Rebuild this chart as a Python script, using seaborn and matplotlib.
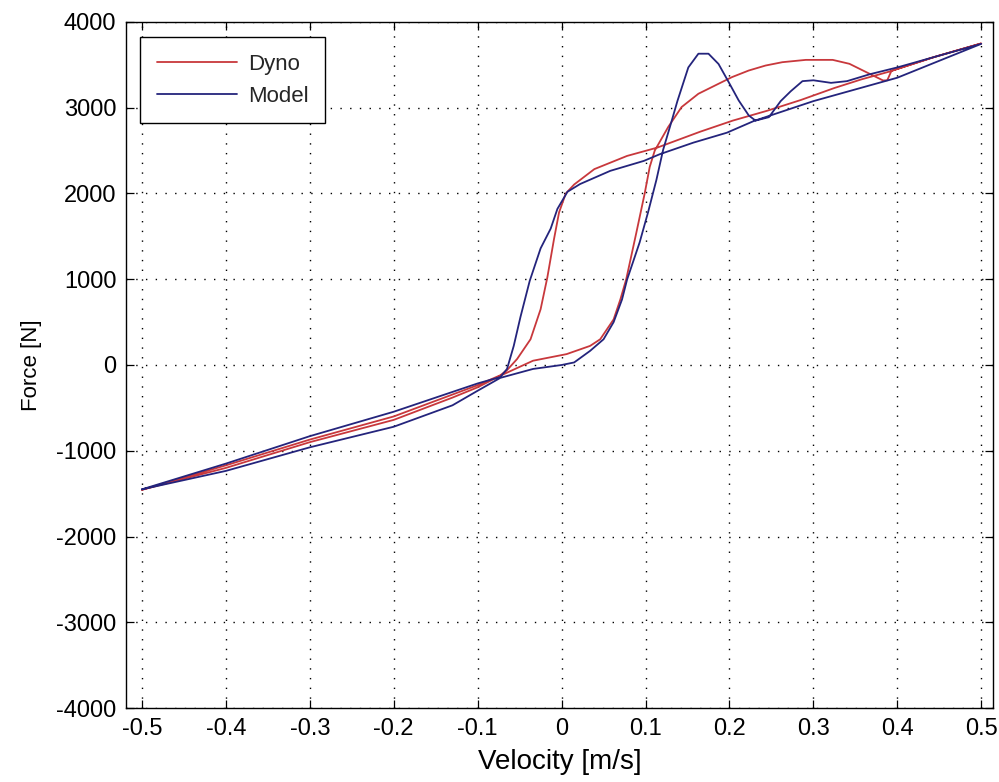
import matplotlib
matplotlib.use("Agg")
import matplotlib.pyplot as plt
import numpy as np
import pandas as pd
import seaborn as sns

# ---------------- data ----------------
# Dyno loop: accelerating branch then decelerating branch
dyno_v = [-0.5, -0.4, -0.3, -0.2, -0.13, -0.1, -0.073, -0.034, 0.006, 0.034,
          0.046, 0.062, 0.07, 0.077, 0.089, 0.099, 0.105, 0.111, 0.127, 0.143,
          0.163, 0.183, 0.203, 0.223, 0.243, 0.263, 0.291, 0.323, 0.343, 0.363,
          0.383, 0.388, 0.393, 0.446, 0.5,
          0.44, 0.39, 0.357, 0.325, 0.285, 0.245, 0.204, 0.165, 0.114, 0.078,
          0.039, 0.015, 0.005, -0.003, -0.009, -0.017, -0.025, -0.037, -0.053,
          -0.065, -0.073, -0.1, -0.2, -0.3, -0.4, -0.5]
dyno_f = [-1455, -1200, -900, -640, -380, -260, -125, 50, 127, 223,
          300, 532, 764, 1000, 1540, 2000, 2310, 2500, 2775, 3008,
          3163, 3260, 3357, 3434, 3492, 3531, 3558, 3558, 3512, 3415,
          3318, 3320, 3430, 3597, 3750,
          3580, 3420, 3330, 3230, 3090, 2965, 2850, 2720, 2535, 2438,
          2284, 2105, 2000, 1780, 1470, 1020, 650, 300, 70,
          -60, -120, -235, -600, -870, -1170, -1455]

# Model loop: accelerating branch then decelerating branch
model_v = [-0.5, -0.4, -0.3, -0.2, -0.13, -0.1, -0.073, -0.034, 0.0, 0.015,
           0.034, 0.05, 0.062, 0.072, 0.078, 0.093, 0.103, 0.113, 0.121, 0.13,
           0.138, 0.151, 0.163, 0.175, 0.187, 0.199, 0.211, 0.223, 0.231, 0.247,
           0.261, 0.273, 0.287, 0.3, 0.321, 0.34, 0.367, 0.4, 0.446, 0.5,
           0.4, 0.3, 0.229, 0.197, 0.157, 0.117, 0.098, 0.058, 0.022, 0.007,
           -0.005, -0.013, -0.025, -0.038, -0.049, -0.057, -0.065, -0.073, -0.1,
           -0.2, -0.3, -0.4, -0.5]
model_f = [-1450, -1235, -960, -720, -470, -300, -150, -46, 0, 30,
           165, 300, 500, 764, 995, 1430, 1780, 2160, 2510, 2807,
           3078, 3470, 3630, 3630, 3510, 3300, 3085, 2910, 2850, 2890,
           3077, 3192, 3310, 3320, 3290, 3310, 3390, 3470, 3597, 3745,
           3350, 3077, 2845, 2709, 2593, 2458, 2380, 2264, 2110, 2020,
           1820, 1590, 1360, 980, 560, 223, -46, -140, -215,
           -545, -830, -1150, -1450]

series_names = ["Dyno", "Model"]
series_colors = ["#c8383c", "#24247c"]

x_ticks = [-0.5, -0.4, -0.3, -0.2, -0.1, 0.0, 0.1, 0.2, 0.3, 0.4, 0.5]
x_tick_labels = ["-0.5", "-0.4", "-0.3", "-0.2", "-0.1", "0", "0.1", "0.2", "0.3", "0.4", "0.5"]
y_ticks = [-4000, -3000, -2000, -1000, 0, 1000, 2000, 3000, 4000]
y_tick_labels = ["-4000", "-3000", "-2000", "-1000", "0", "1000", "2000", "3000", "4000"]

# ---------------- build table ----------------
df = pd.concat([
    pd.DataFrame({"Velocity": dyno_v, "Force": dyno_f, "Series": series_names[0]}),
    pd.DataFrame({"Velocity": model_v, "Force": model_f, "Series": series_names[1]}),
], ignore_index=True)

sns.set_theme(style="ticks")
plt.rcParams["font.family"] = ["Liberation Sans", "DejaVu Sans"]
plt.rcParams["axes.unicode_minus"] = False

fig = plt.figure(figsize=(9.99, 7.82), dpi=100)
fig.patch.set_facecolor("white")
ax = fig.add_axes([0.1261, 0.0946, 0.8679, 0.8773])
ax.set_facecolor("white")

sns.lineplot(data=df, x="Velocity", y="Force", hue="Series",
             palette=dict(zip(series_names, series_colors)),
             sort=False, estimator=None, linewidth=1.3, ax=ax)

ax.set_xlim(-0.519, 0.514)
ax.set_ylim(-4000, 4000)
ax.set_xticks(x_ticks)
ax.set_xticklabels(x_tick_labels)
ax.set_yticks(y_ticks)
ax.set_yticklabels(y_tick_labels)

ax.grid(True, linestyle=(0, (1, 6)), color="black", linewidth=1.0)
ax.set_axisbelow(True)
ax.tick_params(direction="in", top=True, right=True, length=6, width=0.9,
               color="black", labelsize=17, labelcolor="black")
ax.tick_params(axis="x", pad=7)
ax.tick_params(axis="y", pad=7)
for s in ax.spines.values():
    s.set_color("black")
    s.set_linewidth(1.0)

ax.set_xlabel("Velocity [m/s]", fontsize=20, color="black", labelpad=7)
ax.set_ylabel("Force [N]", fontsize=16, color="black", labelpad=10)

h, l = ax.get_legend_handles_labels()
leg = ax.legend(h, l, loc="upper left", bbox_to_anchor=(14 / 867, 1 - 15 / 686),
                borderaxespad=0, frameon=True, fancybox=False, edgecolor="black",
                framealpha=1, handlelength=3.6, handletextpad=0.5, fontsize=16,
                labelspacing=0.5, borderpad=0.75)
leg.get_frame().set_linewidth(1.0)
for line in leg.get_lines():
    line.set_linewidth(1.3)

fig.savefig("out.png", dpi=100, facecolor="white")
